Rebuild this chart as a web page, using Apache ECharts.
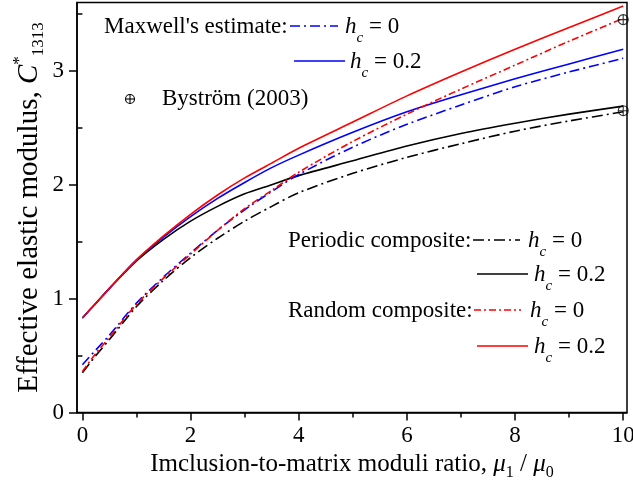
<!DOCTYPE html>
<html>
<head>
<meta charset="utf-8">
<script src="https://cdn.jsdelivr.net/npm/echarts@6/dist/echarts.min.js"></script>
<style>
html,body{margin:0;padding:0;background:#fff;}
#chart{width:633px;height:486px;}
</style>
</head>
<body>
<div id="chart"></div>
<script>
// ---- data ----
const xs = [0, 0.25, 0.5, 1, 1.5, 2, 2.5, 3, 3.5, 4, 5, 6, 7, 8, 9, 10];
const maxwellH0   = [0.42, 0.55, 0.68, 0.96, 1.19, 1.40, 1.60, 1.78, 1.94, 2.09, 2.33, 2.53, 2.70, 2.86, 2.99, 3.11];
const maxwellH02  = [0.83, 0.96, 1.09, 1.34, 1.54, 1.72, 1.88, 2.02, 2.15, 2.26, 2.46, 2.64, 2.79, 2.93, 3.06, 3.19];
const periodicH0  = [0.35, 0.50, 0.64, 0.93, 1.16, 1.36, 1.53, 1.68, 1.81, 1.93, 2.10, 2.24, 2.36, 2.47, 2.56, 2.64];
const periodicH02 = [0.83, 0.96, 1.09, 1.33, 1.52, 1.68, 1.81, 1.92, 2.00, 2.08, 2.21, 2.34, 2.45, 2.54, 2.62, 2.69];
const randomH0    = [0.36, 0.52, 0.66, 0.95, 1.18, 1.39, 1.60, 1.79, 1.95, 2.11, 2.38, 2.62, 2.84, 3.05, 3.26, 3.46];
const randomH02   = [0.83, 0.96, 1.09, 1.34, 1.55, 1.74, 1.91, 2.06, 2.19, 2.32, 2.55, 2.78, 2.99, 3.19, 3.38, 3.57];
const bystromX = [10, 10];
const bystromY = [3.45, 2.65];
const xMajorTicks = [0, 2, 4, 6, 8, 10];
const xMinorTicks = [1, 3, 5, 7, 9];
const yMajorTicks = [0, 1, 2, 3];
const yMinorTicks = [0.5, 1.5, 2.5, 3.5];

const FONT = '"Liberation Serif", "Times New Roman", serif';
const pair = (a, b) => a.map((v, i) => [v, b[i]]);

const DD_BLUE = [10, 4, 2, 4];
const DD_BLACK = [11, 4, 2, 4];
const DD_RED = [7, 3, 2, 3];
const LW = 1.6;

function lineSeries(name, data, color, dash) {
  return {
    name, type: 'line', data: pair(xs, data), smooth: 0.3, showSymbol: false, symbol: 'none',
    lineStyle: { color, width: LW, type: dash ? dash : 'solid' }, z: 3
  };
}

function makeRich(fs, lh, subFs, subLh) {
  return {
    n: { fontFamily: FONT, fontSize: fs, color: '#000', lineHeight: lh, verticalAlign: 'middle' },
    i: { fontFamily: FONT, fontSize: fs, fontStyle: 'italic', color: '#000', lineHeight: lh, verticalAlign: 'middle' },
    sub: { fontFamily: FONT, fontSize: subFs, color: '#000', lineHeight: subLh, verticalAlign: 'bottom' },
    subi: { fontFamily: FONT, fontSize: subFs, fontStyle: 'italic', color: '#000', lineHeight: subLh, verticalAlign: 'bottom' },
    sup: { fontFamily: FONT, fontSize: subFs, color: '#000', lineHeight: 8, verticalAlign: 'top' }
  };
}
const richLegend = makeRich(23, 38, 15, 14);
const richXTitle = makeRich(25, 32, 16, 12);
const richYTitle = makeRich(29, 36, 17, 14);

function legLine(x1, x2, y, color, dash) {
  return { type: 'line', shape: { x1, y1: y, x2, y2: y }, style: { stroke: color, lineWidth: LW, lineDash: dash || null }, z: 10 };
}
function legText(x, y, text, rich) {
  return { type: 'text', x, y, z: 10, style: { text, rich: rich ? richLegend : undefined, font: '23px ' + FONT, fill: '#000', align: 'left', verticalAlign: 'middle', textVerticalAlign: 'middle' } };
}
const hc = (v) => '{i|h}{subi|c}{n| = ' + v + '}';

const chart = echarts.init(document.getElementById('chart'), null, { renderer: 'canvas' });
chart.setOption({
  animation: false,
  backgroundColor: '#fff',
  grid: { left: 77, right: 6, top: 2.5, bottom: 73.5, containLabel: false, outerBoundsMode: 'none',
          show: true, borderColor: '#000', borderWidth: 1.5, backgroundColor: 'transparent' },
  xAxis: [{
    type: 'value', min: -0.1, max: 10.07,
    name: '{n|Imclusion-to-matrix moduli ratio, }{i|μ}{sub|1}{n| / }{i|μ}{sub|0}',
    nameLocation: 'middle', nameGap: 36, nameMoveOverlap: false,
    nameTextStyle: { fontFamily: FONT, fontSize: 25, color: '#000', lineHeight: 32, rich: richXTitle },
    axisLine: { show: true, onZero: false, lineStyle: { color: '#000', width: 1.5 } },
    axisTick: { show: true, inside: false, length: 8, customValues: xMajorTicks, lineStyle: { color: '#000', width: 1.5 } },
    axisLabel: { show: true, customValues: xMajorTicks, margin: 12, fontFamily: FONT, fontSize: 23, color: '#000' },
    splitLine: { show: false }
  }, {
    type: 'value', min: -0.1, max: 10.07, position: 'bottom',
    axisLine: { show: false },
    axisTick: { show: true, inside: false, length: 5, customValues: xMinorTicks, lineStyle: { color: '#000', width: 1.5 } },
    axisLabel: { show: false },
    splitLine: { show: false }
  }],
  yAxis: [{
    type: 'value', min: 0, max: 3.6,
    name: '{n|Effective elastic modulus, }{i|C}{sup|*}{sub|1313}',
    nameLocation: 'middle', nameGap: 30, nameRotate: 90, nameMoveOverlap: false,
    nameTextStyle: { fontFamily: FONT, fontSize: 29, color: '#000', lineHeight: 36, rich: richYTitle },
    axisLine: { show: true, onZero: false, lineStyle: { color: '#000', width: 1.5 } },
    axisTick: { show: true, inside: false, length: 8, customValues: yMajorTicks, lineStyle: { color: '#000', width: 1.5 } },
    axisLabel: { show: true, customValues: yMajorTicks, margin: 13, fontFamily: FONT, fontSize: 23, color: '#000' },
    splitLine: { show: false }
  }, {
    type: 'value', min: 0, max: 3.6, position: 'left',
    axisLine: { show: false },
    axisTick: { show: true, inside: false, length: 5, customValues: yMinorTicks, lineStyle: { color: '#000', width: 1.5 } },
    axisLabel: { show: false },
    splitLine: { show: false }
  }],
  series: [
    lineSeries('Periodic h0', periodicH0, '#000000', DD_BLACK),
    lineSeries('Periodic h02', periodicH02, '#000000', null),
    lineSeries('Maxwell h0', maxwellH0, '#0000ff', DD_BLUE),
    lineSeries('Maxwell h02', maxwellH02, '#0000ff', null),
    lineSeries('Random h0', randomH0, '#ff0000', DD_RED),
    lineSeries('Random h02', randomH02, '#ff0000', null),
    {
      name: 'Bystrom', type: 'scatter', data: pair(bystromX, bystromY),
      symbol: 'path://M10,0A10,10,0,1,1,10,20A10,10,0,1,1,10,0ZM0,10L20,10M10,0L10,20',
      symbolSize: 10, symbolKeepAspect: true,
      itemStyle: { color: 'rgba(0,0,0,0)', borderColor: '#000', borderWidth: 1.1 }, z: 5
    }
  ],
  graphic: [
    legText(104, 27, "Maxwell's estimate:", false),
    legLine(290, 338, 26, '#0000ff', DD_BLUE),
    legText(345, 27, hc('0'), true),
    legLine(294, 345, 61, '#0000ff', null),
    legText(350, 62, hc('0.2'), true),
    { type: 'circle', shape: { cx: 130, cy: 99, r: 4.5 }, style: { fill: 'none', stroke: '#000', lineWidth: 1.1 }, z: 10 },
    { type: 'line', shape: { x1: 125.5, y1: 99, x2: 134.5, y2: 99 }, style: { stroke: '#000', lineWidth: 1.1 }, z: 10 },
    { type: 'line', shape: { x1: 130, y1: 94.5, x2: 130, y2: 103.5 }, style: { stroke: '#000', lineWidth: 1.1 }, z: 10 },
    legText(162, 99, 'Byström (2003)', false),
    legText(288, 241, 'Periodic composite:', false),
    legLine(473, 520, 240, '#000000', DD_BLACK),
    legText(528, 241, hc('0'), true),
    legLine(477, 528, 274, '#000000', null),
    legText(534, 275, hc('0.2'), true),
    legText(288, 311, 'Random composite:', false),
    legLine(474, 521, 310, '#ff0000', DD_RED),
    legText(530, 311, hc('0'), true),
    legLine(477, 528, 346, '#ff0000', null),
    legText(534, 347, hc('0.2'), true)
  ]
});
</script>
</body>
</html>
